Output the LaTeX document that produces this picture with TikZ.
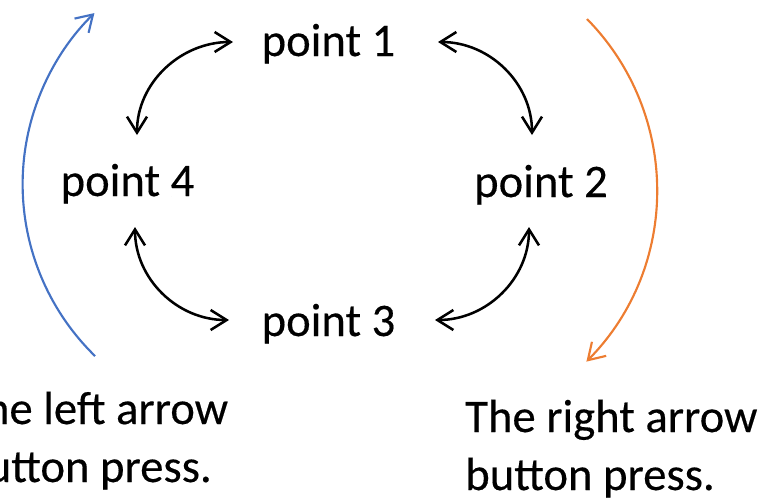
\documentclass[tikz,border=0pt]{standalone}
\usepackage{fontspec}
\setmainfont{Carlito}[FakeBold=0.3]
\usetikzlibrary{arrows.meta}
\definecolor{leftblue}{HTML}{4472C4}
\definecolor{rightorange}{HTML}{ED7D31}
\begin{document}
\begin{tikzpicture}[x=0.75pt,y=0.75pt,
  lbl/.style={font=\fontsize{35}{42}\selectfont, inner sep=0pt, anchor=base},
  caption/.style={font=\fontsize{35}{43.5}\selectfont, inner sep=0pt, align=left, anchor=base west},
  swap/.style={draw=black, line width=1.9pt,
    {Straight Barb[length=12pt,width=15pt]}-{Straight Barb[length=12pt,width=15pt]}},
  cyclearrow/.style={line width=1.6pt, -{Straight Barb[length=12pt,width=15pt]}},
]
\useasboundingbox (0,0) rectangle (772,-501);
\clip (0,0) rectangle (772,-501);

% the four positions
\node[lbl] (p1) at (328.5,-56) {point 1};
\node[lbl] (p2) at (541,-197) {point 2};
\node[lbl] (p3) at (328.5,-336) {point 3};
\node[lbl] (p4) at (127.5,-196) {point 4};

% ends of the two-way arrows
\coordinate (tl4) at (137,-135);
\coordinate (tl1) at (233,-42);
\coordinate (tr1) at (438,-42);
\coordinate (tr2) at (532,-135);
\coordinate (bl4) at (135,-227);
\coordinate (bl3) at (229,-320);
\coordinate (br2) at (529,-227);
\coordinate (br3) at (435,-320);

\draw[swap] (tl4) to[out=90,in=180] (tl1);
\draw[swap] (tr1) to[out=0,in=90] (tr2);
\draw[swap] (bl4) to[out=-90,in=180] (bl3);
\draw[swap] (br2) to[out=-90,in=0] (br3);

% direction arcs
\coordinate (lb) at (95,-356);
\coordinate (ro) at (587,-19);
\draw[cyclearrow, leftblue] (lb) arc[start angle=225.7, end angle=134.5, radius=240];
\draw[cyclearrow, rightorange] (ro) arc[start angle=44.5, end angle=-44.7, radius=244];

% captions (base anchor sits on the last line)
\node[caption] (lt) at (-38,-482) {The left arrow\\button press.};
\node[caption] (rt) at (465,-490) {The right arrow\\button press.};
\end{tikzpicture}
\end{document}
